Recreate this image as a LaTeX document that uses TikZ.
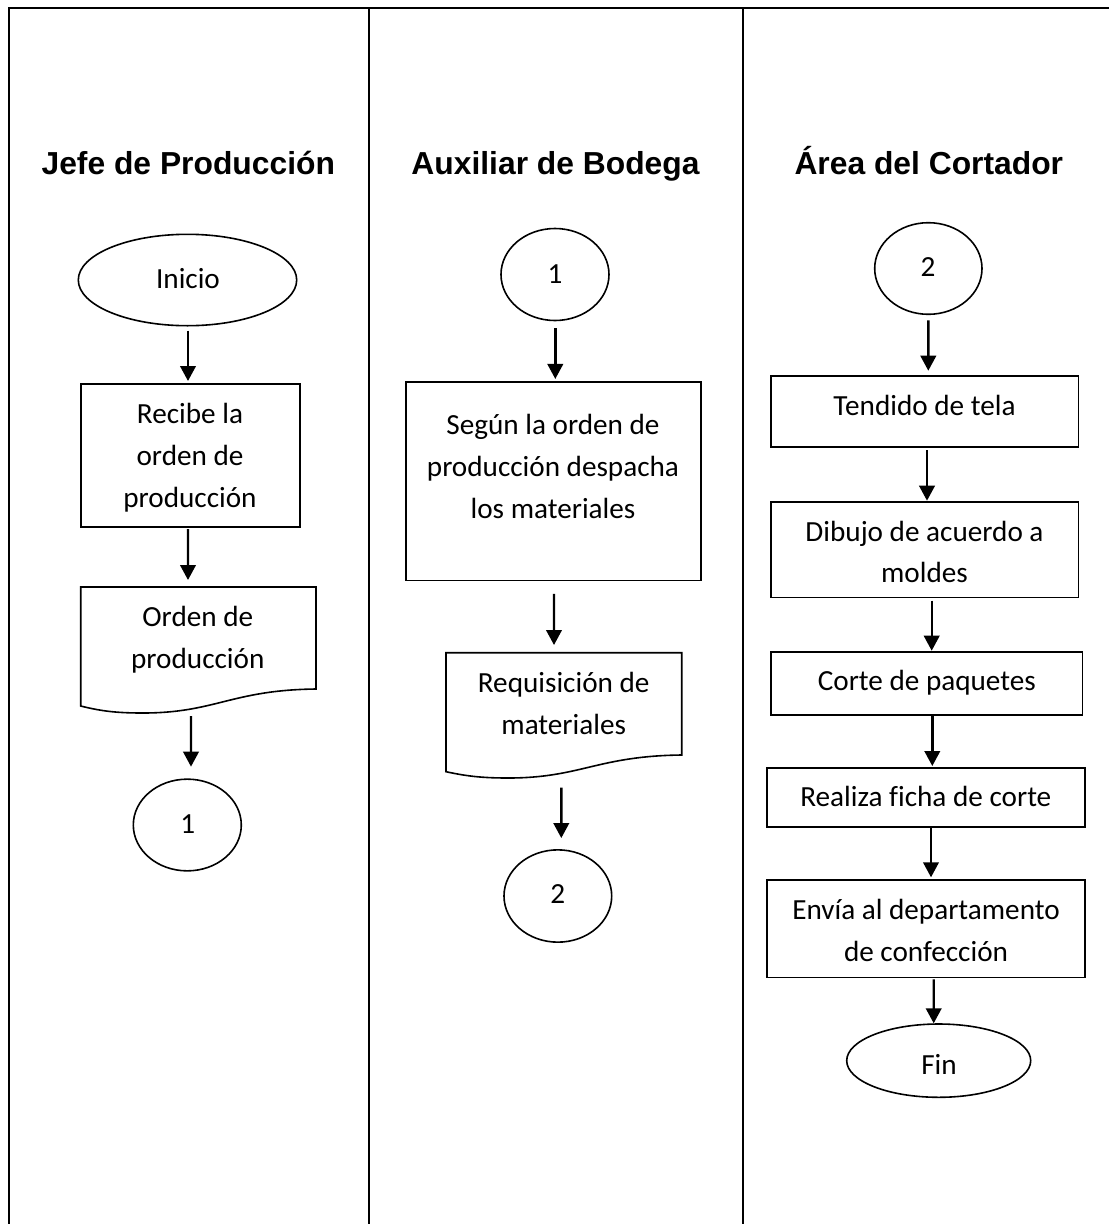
\documentclass[tikz,border=0pt]{standalone}
\usepackage{fontspec}
\setmainfont[Ligatures=CommonOff]{Carlito}
\newfontfamily\titlefont{Liberation Sans}[BoldFont={Liberation Sans Bold}]
\usetikzlibrary{arrows.meta,shapes.geometric}
\tikzset{
  frameline/.style={line width=2pt,black},
  shapeline/.style={draw=black,line width=1.6pt},
  boxnode/.style={rectangle,shapeline,inner sep=0pt,outer sep=0pt},
  ovalnode/.style={ellipse,shapeline,inner sep=0pt,outer sep=0pt},
  boxtext/.style={font=\fontsize{29.2}{41.6}\selectfont,align=center,inner sep=0pt,anchor=base,text=black},
  headtext/.style={font=\fontsize{31.8}{38}\selectfont\titlefont\bfseries,inner sep=0pt,anchor=base,text=black},
  flowarrow/.style={-{Triangle[length=15pt,width=15.5pt]},line width=2.4pt,black},
}
% name, x-left, x-right, y-top, y right end of wave, y left end of wave, trough y
\newcommand{\docshape}[7]{%
  \node[inner sep=0pt,outer sep=0pt,minimum width=#3pt-#2pt,minimum height=#6pt-#4pt] (#1) at ({(#2+#3)/2},{(#4+#6)/2}) {};
  \draw[line width=1.6pt,black,line join=miter] (#2,#4) -- (#3,#4) -- (#3,#5)
    .. controls ({#3-85},{#5+1}) and ({#2+135},#7) .. ({#2+62},#7)
    .. controls ({#2+35},#7) and ({#2+20},{#7-2}) .. (#2,#6) -- cycle;
}
\begin{document}
\begin{tikzpicture}[x=1pt,y=-1pt]
\useasboundingbox (0,0) rectangle (1109,1224);
\fill[white] (0,0) rectangle (1109,1224);
% frame
\coordinate (tl) at (9,8); \coordinate (tr) at (1109,8);
\coordinate (bl) at (9,1224);
\coordinate (ca) at (369,8); \coordinate (cab) at (369,1224);
\coordinate (cb) at (743,8); \coordinate (cbb) at (743,1224);
\draw[frameline] (bl) -- (tl) -- (tr);
\draw[frameline] (ca) -- (cab);
\draw[frameline] (cb) -- (cbb);
% headings
\node[headtext] (h1) at (188.3,174) {Jefe de Producción};
\node[headtext] (h2) at (555.5,174.5) {Auxiliar de Bodega};
\node[headtext] (h3) at (928.8,174.5) {Área del Cortador};
% column 1
\node[ovalnode,minimum width=218.4pt,minimum height=91.4pt] (ini) at (187.5,280) {};
\node[boxtext] (tini) at (188,288) {Inicio};
\node[boxnode,minimum width=219pt,minimum height=143pt] (b1) at (190.2,455.5) {};
\node[boxtext] (tb1) at (190,507) {Recibe la\\orden de\\producción};
\docshape{d1}{80.7}{316}{587}{689}{706}{713}
\node[boxtext] (td1) at (197.8,668.5) {Orden de\\producción};
\node[ovalnode,minimum width=108pt,minimum height=91.7pt] (c1) at (187.3,825) {};
\node[boxtext] (tc1) at (187.7,833.3) {1};
% column 2
\node[ovalnode,minimum width=108pt,minimum height=92pt] (c2) at (555,274.5) {};
\node[boxtext] (tc2) at (555,283) {1};
\node[boxnode,minimum width=295pt,minimum height=198.7pt] (b2) at (553.2,481.3) {};
\node[boxtext] (tb2) at (553,518) {Según la orden de\\producción despacha\\los materiales};
\docshape{d2}{446}{681.7}{652.7}{755}{771.7}{778}
\node[boxtext] (td2) at (563.7,734.2) {Requisición de\\materiales};
\node[ovalnode,minimum width=107.7pt,minimum height=92.3pt] (c3) at (557.85,896) {};
\node[boxtext] (tc3) at (557.7,903.8) {2};
% column 3
\node[ovalnode,minimum width=107.3pt,minimum height=91.6pt] (c4) at (928.35,268.5) {};
\node[boxtext] (tc4) at (928,276.8) {2};
\node[boxnode,minimum width=307.6pt,minimum height=71.3pt] (b3) at (924.5,411.35) {};
\node[boxtext] (tb3) at (924.5,415) {Tendido de tela};
\node[boxnode,minimum width=307.6pt,minimum height=95.6pt] (b4) at (924.5,549.5) {};
\node[boxtext] (tb4) at (924.5,582.7) {Dibujo de acuerdo a\\moldes};
\node[boxnode,minimum width=311.6pt,minimum height=63.3pt] (b5) at (926.5,683.35) {};
\node[boxtext] (tb5) at (926.8,690) {Corte de paquetes};
\node[boxnode,minimum width=318.3pt,minimum height=59pt] (b6) at (925.85,797.2) {};
\node[boxtext] (tb6) at (925.8,806.5) {Realiza ficha de corte};
\node[boxnode,minimum width=318.3pt,minimum height=97.3pt] (b7) at (925.85,928.65) {};
\node[boxtext] (tb7) at (926,961) {Envía al departamento\\de confección};
\node[ovalnode,minimum width=184pt,minimum height=73.3pt] (fin) at (938.7,1060.65) {};
\node[boxtext] (tfin) at (939,1074) {Fin};
% connectors
\draw[flowarrow,shorten <=5pt,shorten >=3pt] ([xshift=0.5pt]ini.south) -- ([xshift=-2.2pt]b1.north);
\draw[flowarrow,shorten <=2pt,shorten >=7pt] ([xshift=-2.2pt]b1.south) -- ([xshift=-10.35pt]d1.north);
\draw[flowarrow,shorten <=10pt,shorten >=12.5pt] ([xshift=-7.35pt]d1.south) -- ([xshift=3.7pt]c1.north);
\draw[flowarrow,shorten <=7.5pt,shorten >=3pt] ([xshift=0.3pt]c2.south) -- ([xshift=2.1pt]b2.north);
\draw[flowarrow,shorten <=13.3pt,shorten >=7.7pt] ([xshift=0.8pt]b2.south) -- ([xshift=-9.85pt]d2.north);
\draw[flowarrow,shorten <=16pt,shorten >=11.8pt] ([xshift=-2.55pt]d2.south) -- ([xshift=3.45pt]c3.north);
\draw[flowarrow,shorten <=6pt,shorten >=5pt] (c4.south) -- ([xshift=3.8pt]b3.north);
\draw[flowarrow,shorten <=3pt,shorten >=1pt] ([xshift=2.5pt]b3.south) -- ([xshift=2.5pt]b4.north);
\draw[flowarrow,shorten <=3.4pt,shorten >=1pt] ([xshift=7.2pt]b4.south) -- ([xshift=5.2pt]b5.north);
\draw[flowarrow,shorten <=1pt,shorten >=1.7pt] ([xshift=5.8pt]b5.south) -- ([xshift=6.45pt]b6.north);
\draw[flowarrow,shorten <=1.3pt,shorten >=2.7pt] ([xshift=5.15pt]b6.south) -- ([xshift=5.15pt]b7.north);
\draw[flowarrow,shorten <=2pt,shorten >=0.7pt] ([xshift=7.85pt]b7.south) -- ([xshift=-5pt]fin.north);
\end{tikzpicture}
\end{document}
